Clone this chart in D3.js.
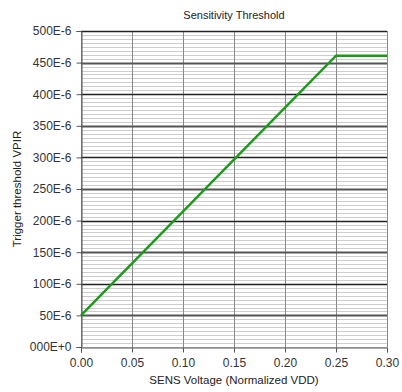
<!DOCTYPE html>
<html>
<head>
<meta charset="utf-8">
<script src="https://cdn.jsdelivr.net/npm/d3@7"></script>
<style>
  body { margin: 0; background: #fff; }
  svg { display: block; font-family: "Liberation Sans", Arial, sans-serif; }
</style>
</head>
<body>
<svg class="chart"></svg>
<script>
// sensitivity threshold line chart

var xTickValues = [0, 0.05, 0.10, 0.15, 0.20, 0.25, 0.30];
var xTickLabels = ["0.00", "0.05", "0.10", "0.15", "0.20", "0.25", "0.30"];
var yTickValues = [0, 50e-6, 100e-6, 150e-6, 200e-6, 250e-6, 300e-6, 350e-6, 400e-6, 450e-6, 500e-6];
var yTickLabels = ["000E+0", "50E-6", "100E-6", "150E-6", "200E-6", "250E-6", "300E-6", "350E-6", "400E-6", "450E-6", "500E-6"];
var sensVoltage = [0, 0.25, 0.30];
var triggerThreshold = [50e-6, 461e-6, 461e-6];
var minorStep = 6.25e-6;

var width = 402, height = 392;
var margin = { top: 31, right: 15, bottom: 45, left: 81 };

var svg = d3.select(".chart")
  .attr("width", width)
  .attr("height", height);

var x = d3.scaleLinear().domain([0, 0.30]).range([margin.left, width - margin.right]);
var y = d3.scaleLinear().domain([0, 500e-6]).range([height - margin.bottom, margin.top]);

// minor horizontal grid
var minor = d3.range(0, 500e-6 + 1e-9, minorStep);
svg.append("g")
  .selectAll("line")
  .data(minor)
  .join("line")
  .attr("x1", x(0)).attr("x2", x(0.30))
  .attr("y1", function(d) { return Math.round(y(d)) + 0.5; })
  .attr("y2", function(d) { return Math.round(y(d)) + 0.5; })
  .attr("stroke", "#cdcdcd")
  .attr("stroke-width", 1);

// vertical grid
svg.append("g")
  .selectAll("line")
  .data(xTickValues)
  .join("line")
  .attr("x1", function(d) { return Math.round(x(d)) + 0.5; })
  .attr("x2", function(d) { return Math.round(x(d)) + 0.5; })
  .attr("y1", y(500e-6)).attr("y2", y(0))
  .attr("stroke", "#8a8a8a")
  .attr("stroke-width", 1);

// major horizontal grid
svg.append("g")
  .selectAll("line")
  .data(yTickValues.slice(1))
  .join("line")
  .attr("x1", x(0)).attr("x2", x(0.30))
  .attr("y1", function(d) { return Math.round(y(d)) + 0.5; })
  .attr("y2", function(d) { return Math.round(y(d)) + 0.5; })
  .attr("stroke", function(d, i) { return i % 2 === 0 ? "#555" : "#222"; })
  .attr("stroke-width", function(d, i) { return i % 2 === 0 ? 2 : 1.3; });

// axes
var yAxis = d3.axisLeft(y)
  .tickValues(yTickValues)
  .tickFormat(function(d, i) { return yTickLabels[i]; })
  .tickSize(5)
  .tickPadding(5);

svg.append("g")
  .attr("transform", "translate(" + (Math.round(x(0)) + 0.5) + ",0)")
  .call(yAxis)
  .call(function(g) { g.select(".domain").attr("stroke", "#555"); })
  .call(function(g) { g.selectAll(".tick line").attr("stroke", "#555"); })
  .call(function(g) { g.selectAll(".tick text").attr("fill", "#333").style("font-size", "12px").style("font-family", "Liberation Sans, Arial, sans-serif"); });

var xAxis = d3.axisBottom(x)
  .tickValues(xTickValues)
  .tickFormat(function(d, i) { return xTickLabels[i]; })
  .tickSize(5)
  .tickPadding(6);

svg.append("g")
  .attr("transform", "translate(0," + (Math.round(y(0)) + 0.5) + ")")
  .call(xAxis)
  .call(function(g) { g.select(".domain").attr("stroke", "#555"); })
  .call(function(g) { g.selectAll(".tick line").attr("stroke", "#555"); })
  .call(function(g) { g.selectAll(".tick text").attr("fill", "#333").style("font-size", "12px").style("font-family", "Liberation Sans, Arial, sans-serif"); });

// data line
var line = d3.line()
  .x(function(d) { return x(d[0]); })
  .y(function(d) { return y(d[1]); });

svg.append("path")
  .datum(d3.zip(sensVoltage, triggerThreshold))
  .attr("fill", "none")
  .attr("stroke", "#1c9a1c")
  .attr("stroke-width", 2.5)
  .attr("d", line);

// titles
svg.append("text")
  .attr("x", (x(0) + x(0.30)) / 2)
  .attr("y", 19)
  .attr("text-anchor", "middle")
  .attr("fill", "#222")
  .style("font-size", "11px")
  .text("Sensitivity Threshold");

svg.append("text")
  .attr("x", (x(0) + x(0.30)) / 2)
  .attr("y", 384)
  .attr("text-anchor", "middle")
  .attr("fill", "#222")
  .style("font-size", "11.5px")
  .text("SENS Voltage (Normalized VDD)");

svg.append("text")
  .attr("transform", "translate(21," + ((y(0) + y(500e-6)) / 2) + ") rotate(-90)")
  .attr("text-anchor", "middle")
  .attr("fill", "#222")
  .style("font-size", "11.5px")
  .text("Trigger threshold VPIR");
</script>
</body>
</html>
